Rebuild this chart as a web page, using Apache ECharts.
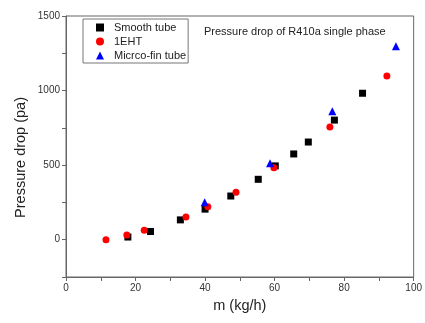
<!DOCTYPE html>
<html><head><meta charset="utf-8">
<script src="https://cdn.jsdelivr.net/npm/echarts@6/dist/echarts.min.js"></script>
<style>html,body{margin:0;padding:0;background:#fff}#c{width:425px;height:323px}</style>
</head><body><div id="c"></div>
<script>
const smoothX = [17.8, 24.3, 32.9, 40.0, 47.4, 55.3, 60.2, 65.5, 69.7, 77.2, 85.3];
const smoothY = [18, 55, 133, 205, 293, 405, 495, 575, 655, 802, 982];
const ehtX = [11.5, 17.5, 22.5, 34.5, 40.8, 48.9, 59.8, 75.9, 92.3];
const ehtY = [0, 31, 63, 153, 221, 318, 482, 755, 1098];
const finX = [39.9, 58.7, 76.6, 94.9];
const finY = [252, 512, 862, 1297];
const seriesNames = ['Smooth tube', '1EHT', 'Micrco-fin tube'];
const titleText = 'Pressure drop of R410a single phase';
const xName = 'm (kg/h)';
const yName = 'Pressure drop (pa)';

const pair = (xs, ys) => xs.map((x, i) => [x, ys[i]]);
const font = 'Liberation Sans, Arial, sans-serif';
const chart = echarts.init(document.getElementById('c'));
chart.setOption({
  animation: false,
  title: { text: titleText, left: 199, top: 21, textStyle: { fontFamily: font, fontSize: 11, fontWeight: 'normal', color: '#222' } },
  legend: {
    orient: 'vertical', left: 83, top: 19, padding: [3, 2, 2, 13],
    borderColor: '#777', borderWidth: 1, itemGap: 3, itemWidth: 8, itemHeight: 8,
    textStyle: { fontFamily: font, fontSize: 11, color: '#222', padding: [0, 0, 0, 5] },
    data: [
      { name: seriesNames[0], icon: 'rect' },
      { name: seriesNames[1], icon: 'circle' },
      { name: seriesNames[2], icon: 'triangle' }
    ]
  },
  graphic: [{
    type: 'text', left: 13, top: 97, rotation: Math.PI / 2,
    style: { text: yName, fontFamily: font, fontSize: 14.5, fill: '#222' }
  }],
  grid: { left: 66, right: 9, top: 16, bottom: 46, show: true, borderColor: '#666', borderWidth: 1 },
  xAxis: {
    type: 'value', min: 0, max: 100, interval: 10,
    name: xName, nameLocation: 'middle', nameGap: 21,
    nameTextStyle: { fontFamily: font, fontSize: 14.5, color: '#222' },
    axisLine: { show: true, onZero: false, lineStyle: { color: '#666', width: 1 } },
    axisTick: { show: true, inside: false, length: 4, lineStyle: { color: '#666' } },
    axisLabel: { fontFamily: font, fontSize: 10, color: '#333', margin: 6,
      formatter: v => (v % 20 === 0 ? String(v) : '') },
    splitLine: { show: false }
  },
  yAxis: {
    type: 'value', min: -250, max: 1500, interval: 250,
    axisLine: { show: true, onZero: false, lineStyle: { color: '#666', width: 1 } },
    axisTick: { show: true, inside: false, length: 4, lineStyle: { color: '#666' } },
    axisLabel: { fontFamily: font, fontSize: 10, color: '#333', margin: 6,
      formatter: v => (v % 500 === 0 && v >= 0 ? String(v) : '') },
    splitLine: { show: false }
  },
  series: [
    { name: seriesNames[0], type: 'scatter', symbol: 'rect', symbolSize: 7, itemStyle: { color: '#000', opacity: 1 }, data: pair(smoothX, smoothY) },
    { name: seriesNames[1], type: 'scatter', symbol: 'circle', symbolSize: 7, itemStyle: { color: '#ff0000', opacity: 1 }, data: pair(ehtX, ehtY) },
    { name: seriesNames[2], type: 'scatter', symbol: 'triangle', symbolSize: 8, itemStyle: { color: '#0000ff', opacity: 1 }, data: pair(finX, finY) }
  ]
});
</script></body></html>
